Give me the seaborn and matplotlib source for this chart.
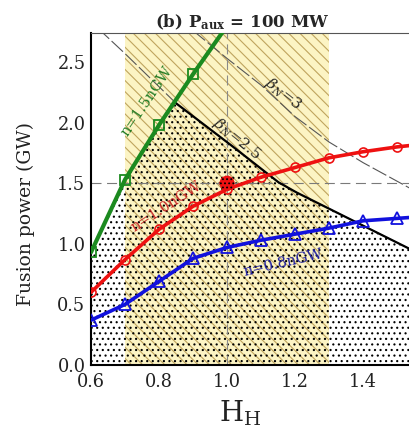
import numpy as np
import matplotlib
matplotlib.use("Agg")
import matplotlib.pyplot as plt
import seaborn as sns

# H-factor scan and fusion power (GW) for three density levels
h_h = [0.6, 0.7, 0.8, 0.9, 1.0, 1.1, 1.2, 1.3, 1.4, 1.5, 1.6]
p_n15 = [0.93, 1.53, 1.98, 2.40, 2.80]          # n = 1.5 nGW, first five H_H values
p_n10 = [0.60, 0.87, 1.12, 1.31, 1.45, 1.55, 1.63, 1.71, 1.76, 1.80, 1.83]
p_n08 = [0.37, 0.50, 0.69, 0.88, 0.97, 1.03, 1.08, 1.13, 1.19, 1.21, 1.23]

# normalized-beta limit curves
beta25_h = [0.62, 0.70, 0.85, 1.00, 1.10, 1.15, 1.20, 1.30, 1.40, 1.55]
beta25_p = [2.78, 2.57, 2.16, 1.84, 1.62, 1.51, 1.43, 1.29, 1.15, 0.94]
beta3_h = [0.90, 1.00, 1.10, 1.20, 1.30, 1.40, 1.55]
beta3_p = [2.76, 2.53, 2.31, 2.05, 1.84, 1.67, 1.44]

# reference operating point and H-factor uncertainty window
op_h, op_p = 1.0, 1.5
window_h = (0.7, 1.3)

yticks = [0.0, 0.5, 1.0, 1.5, 2.0, 2.5]
xticks = [0.6, 0.8, 1.0, 1.2, 1.4]

sns.set_theme(style="white")
plt.rcParams["font.family"] = ["DejaVu Serif"]
plt.rcParams["mathtext.fontset"] = "dejavuserif"
plt.rcParams["hatch.linewidth"] = 0.8

fig = plt.figure(figsize=(4.09, 4.28), dpi=100)
ax = fig.add_axes([91 / 409, 63 / 428, 318 / 409, 332 / 428])

# H-factor window: yellow band with diagonal hatching
ax.axvspan(*window_h, facecolor="#fcf4c4", edgecolor="#bfa45e",
           hatch="\\\\\\", lw=0, zorder=0)

# accessible region: below both the density curve and the beta=2.5 limit
xs = np.linspace(0.6, 1.6, 1001)
g = np.interp(xs, h_h[:len(p_n15)], p_n15, right=np.inf)
b = np.interp(xs, beta25_h, beta25_p)
top = np.minimum(g, b)
ax.fill_between(xs, 0, top, facecolor="none", edgecolor="black",
                hatch="...", lw=0, zorder=1)

# reference lines through the operating point
ax.axhline(op_p, color="#7a7a7a", lw=0.8, ls=(0, (9, 5)), zorder=2)
ax.axvline(op_h, color="#8a8a8a", lw=0.8, ls=(0, (9, 5)), zorder=2)

# beta limits
ax.plot(beta3_h, beta3_p, color="#555555", lw=0.8, ls=(0, (14, 3)), zorder=2)
ax.plot(beta25_h, beta25_p, color="#555555", lw=0.8, ls=(0, (14, 3)), zorder=2)
mask = b <= g
ax.plot(xs[mask], b[mask], color="black", lw=1.6, zorder=3)

# density scans
sns.lineplot(x=h_h[:len(p_n15)], y=p_n15, ax=ax, color="#1b8a1f", lw=3.0,
             marker="s", markersize=7, markerfacecolor="none",
             markeredgecolor="#1b8a1f", markeredgewidth=1.3, zorder=4)
sns.lineplot(x=h_h, y=p_n10, ax=ax, color="#ee1111", lw=2.6,
             marker="o", markersize=6.5, markerfacecolor="none",
             markeredgecolor="#ee1111", markeredgewidth=1.2, zorder=4)
sns.lineplot(x=h_h, y=p_n08, ax=ax, color="#1111dd", lw=2.6,
             marker="^", markersize=8, markerfacecolor="none",
             markeredgecolor="#1111dd", markeredgewidth=1.3, zorder=4)

# operating point
ax.scatter([op_h], [op_p], s=120, c="#ee1111", edgecolors="black",
           linewidths=0, hatch="....", zorder=5)

# curve annotations
ax.text(0.765, 2.18, "n=1.5nGW", color="#207a22", fontsize=10.5,
        rotation=56, rotation_mode="anchor", ha="center", va="center", zorder=6)
ax.text(0.82, 1.31, "n=1.0nGW", color="#c42020", fontsize=10.5,
        rotation=33, rotation_mode="anchor", ha="center", va="center", zorder=6)
ax.text(1.165, 0.84, "n=0.8nGW", color="#1c1ca0", fontsize=10.5,
        rotation=13, rotation_mode="anchor", ha="center", va="center", zorder=6)
ax.text(1.165, 2.24, r"$\beta_N$=3", color="#222222", fontsize=11,
        rotation=-38, rotation_mode="anchor", ha="center", va="center", zorder=6)
ax.text(1.03, 1.87, r"$\beta_N$=2.5", color="#222222", fontsize=11,
        rotation=-39, rotation_mode="anchor", ha="center", va="center", zorder=6)

# axes styling
ax.set_xticks(xticks)
ax.set_yticks(yticks)
ax.set_xticklabels([f"{t:.1f}" for t in xticks])
ax.set_yticklabels([f"{t:.1f}" for t in yticks])
ax.tick_params(direction="in", length=5, width=1, labelsize=12.8,
               colors="#222222", pad=4)
ax.tick_params(axis="x", pad=6)
for side in ("left", "bottom"):
    ax.spines[side].set_linewidth(1.5)
    ax.spines[side].set_color("black")
ax.spines["top"].set_linewidth(0.8)
ax.spines["top"].set_color("#555555")
ax.spines["right"].set_visible(False)

ax.set_ylabel("Fusion power (GW)", fontsize=13.5, color="#222222")
ax.yaxis.set_label_coords(-0.176, 0.455)
ax.set_xlabel(r"$\mathregular{H_H}$", fontsize=20, color="#222222")
ax.xaxis.set_label_coords(0.47, -0.1)

fig.text(242 / 409, 1 - 22 / 428, r"(b) P$_{\mathbf{aux}}$ = 100 MW",
         fontsize=12, fontweight="bold", ha="center", va="center")

ax.set_xlim(0.6, 1.535)
ax.set_ylim(0.0, 2.74)

fig.savefig("out.png", dpi=100)
